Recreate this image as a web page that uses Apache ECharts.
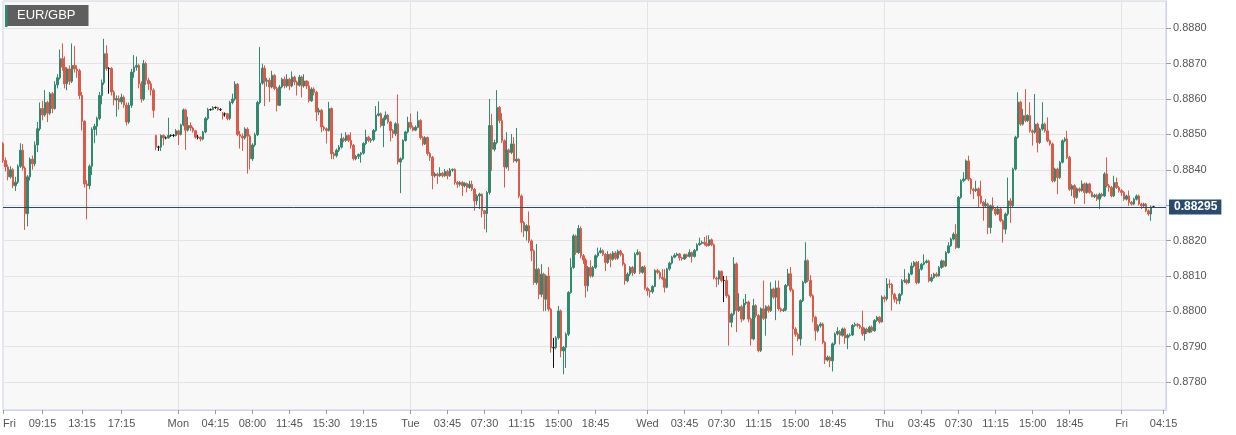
<!DOCTYPE html>
<html><head><meta charset="utf-8">
<script src="https://cdn.jsdelivr.net/npm/echarts@6/dist/echarts.min.js"></script>
<style>html,body{margin:0;padding:0;background:#fff}#c{width:1236px;height:435px}</style>
</head><body><div id="c"></div>
<script>
const symbolName = 'EUR/GBP';
const lastPrice = 0.88295;
// trading sessions: day, first 15-min candle, number of candles
const sessions = [['Fri','05:15',71],['Mon','00:30',94],['Tue','00:00',96],['Wed','00:00',96],['Thu','00:00',96],['Fri','00:00',19]];
const tickTimes = ['Fri 05:15','Fri 09:15','Fri 13:15','Fri 17:15','Mon 00:30','Mon 04:15','Mon 08:00','Mon 11:45','Mon 15:30','Mon 19:15','Tue 00:00','Tue 03:45','Tue 07:30','Tue 11:15','Tue 15:00','Tue 18:45','Wed 00:00','Wed 03:45','Wed 07:30','Wed 11:15','Wed 15:00','Wed 18:45','Thu 00:00','Thu 03:45','Thu 07:30','Thu 11:15','Thu 15:00','Thu 18:45','Fri 00:00','Fri 04:15'];
const tickLabels = ['Fri','09:15','13:15','17:15','Mon','04:15','08:00','11:45','15:30','19:15','Tue','03:45','07:30','11:15','15:00','18:45','Wed','03:45','07:30','11:15','15:00','18:45','Thu','03:45','07:30','11:15','15:00','18:45','Fri','04:15'];
const dayStarts = ['Mon 00:30','Tue 00:00','Wed 00:00','Thu 00:00','Fri 00:00'];

// candles: [open, close, low, high]
const fri1 = [
[.88474,.88426,.88420,.88478],[.88426,.88408,.88395,.88435],[.88408,.88380,.88370,.88415],[.88380,.88400,.88375,.88410],
[.88400,.88355,.88348,.88405],[.88355,.88365,.88340,.88380],[.88365,.88410,.88360,.88415],[.88410,.88455,.88405,.88475],
[.88455,.88405,.88398,.88473],[.88405,.88276,.88230,.88410],[.88276,.88380,.88240,.88385],[.88380,.88430,.88370,.88435],
[.88430,.88417,.88400,.88440],[.88417,.88470,.88410,.88480],[.88470,.88516,.88450,.88535],[.88516,.88573,.88510,.88590],
[.88573,.88555,.88540,.88595],[.88555,.88590,.88550,.88625],[.88590,.88560,.88535,.88595],[.88560,.88615,.88555,.88620],
[.88615,.88573,.88560,.88620],[.88573,.88640,.88570,.88650],[.88640,.88660,.88630,.88670],[.88660,.88714,.88655,.88740],
[.88714,.88690,.88680,.88757],[.88690,.88643,.88630,.88720],[.88643,.88685,.88625,.88690],[.88685,.88650,.88640,.88695],
[.88650,.88695,.88645,.88757],[.88695,.88685,.88675,.88750],[.88685,.88680,.88660,.88695],[.88680,.88610,.88600,.88685],
[.88610,.88537,.88511,.88620],[.88537,.88360,.88350,.88540],[.88360,.88355,.88260,.88370],[.88355,.88410,.88345,.88415],
[.88410,.88514,.88385,.88520],[.88514,.88523,.88475,.88530],[.88523,.88545,.88497,.88550],[.88545,.88610,.88540,.88620],
[.88610,.88646,.88585,.88655],[.88646,.88728,.88640,.88770],[.88728,.88686,.88680,.88752],[.88686,.88686,.88615,.88690],
[.88686,.88620,.88610,.88690],[.88620,.88597,.88582,.88625],[.88597,.88601,.88550,.88610],[.88601,.88592,.88570,.88610],
[.88592,.88605,.88585,.88615],[.88605,.88583,.88575,.88610],[.88583,.88535,.88525,.88590],[.88535,.88582,.88530,.88590],
[.88582,.88676,.88575,.88685],[.88676,.88690,.88660,.88724],[.88690,.88695,.88680,.88720],[.88695,.88643,.88630,.88700],
[.88643,.88600,.88590,.88650],[.88600,.88700,.88595,.88710],[.88700,.88653,.88640,.88705],[.88653,.88643,.88625,.88660],
[.88643,.88625,.88610,.88650],[.88625,.88568,.88547,.88630],[.88497,.88464,.88455,.88499],[.88464,.88464,.88453,.88468],
[.88464,.88497,.88453,.88500],[.88497,.88490,.88469,.88500],[.88490,.88490,.88486,.88494],[.88490,.88497,.88488,.88547],
[.88497,.88497,.88493,.88500],[.88497,.88497,.88492,.88501],[.88497,.88510,.88494,.88515]
];
const mon = [
[.88510,.88500,.88470,.88513],[.88500,.88527,.88497,.88530],[.88527,.88569,.88523,.88573],[.88569,.88512,.88456,.88572],
[.88512,.88525,.88508,.88550],[.88525,.88518,.88510,.88534],[.88518,.88510,.88505,.88522],[.88510,.88492,.88488,.88513],
[.88492,.88492,.88486,.88499],[.88492,.88487,.88480,.88495],[.88487,.88507,.88483,.88510],[.88507,.88545,.88503,.88550],
[.88545,.88570,.88540,.88575],[.88570,.88570,.88567,.88573],[.88570,.88576,.88568,.88580],[.88576,.88576,.88572,.88579],
[.88576,.88570,.88567,.88578],[.88570,.88570,.88566,.88574],[.88560,.88553,.88542,.88563],[.88558,.88558,.88550,.88562],
[.88558,.88545,.88540,.88560],[.88545,.88590,.88540,.88595],[.88590,.88600,.88585,.88615],[.88600,.88642,.88595,.88650],
[.88642,.88500,.88495,.88645],[.88500,.88495,.88460,.88510],[.88495,.88490,.88453,.88503],[.88490,.88515,.88485,.88520],
[.88515,.88495,.88389,.88520],[.88495,.88431,.88401,.88500],[.88431,.88470,.88425,.88475],[.88470,.88499,.88465,.88505],
[.88499,.88590,.88495,.88595],[.88590,.88645,.88585,.88747],[.88645,.88687,.88640,.88700],[.88687,.88650,.88580,.88695],
[.88650,.88653,.88635,.88660],[.88653,.88634,.88592,.88660],[.88634,.88667,.88630,.88680],[.88667,.88630,.88625,.88670],
[.88630,.88582,.88565,.88635],[.88582,.88634,.88580,.88640],[.88634,.88656,.88630,.88660],[.88656,.88637,.88630,.88663],
[.88637,.88656,.88632,.88670],[.88656,.88637,.88625,.88660],[.88637,.88662,.88633,.88678],[.88662,.88648,.88640,.88666],
[.88648,.88639,.88610,.88652],[.88639,.88662,.88635,.88668],[.88662,.88637,.88604,.88666],[.88637,.88651,.88632,.88670],
[.88651,.88637,.88628,.88653],[.88637,.88595,.88590,.88650],[.88595,.88628,.88592,.88633],[.88628,.88619,.88610,.88633],
[.88619,.88563,.88538,.88623],[.88563,.88568,.88555,.88575],[.88568,.88521,.88506,.88572],[.88521,.88516,.88510,.88525],
[.88516,.88511,.88474,.88520],[.88511,.88573,.88508,.88592],[.88573,.88445,.88430,.88576],[.88445,.88440,.88430,.88450],
[.88440,.88455,.88435,.88460],[.88455,.88464,.88450,.88470],[.88464,.88488,.88460,.88503],[.88488,.88483,.88478,.88493],
[.88483,.88497,.88479,.88506],[.88497,.88483,.88478,.88500],[.88483,.88469,.88460,.88506],[.88469,.88431,.88426,.88473],
[.88431,.88438,.88427,.88442],[.88438,.88443,.88430,.88446],[.88443,.88447,.88420,.88450],[.88447,.88474,.88443,.88478],
[.88474,.88492,.88470,.88513],[.88492,.88483,.88478,.88496],[.88483,.88485,.88476,.88490],[.88485,.88511,.88480,.88515],
[.88511,.88554,.88507,.88580],[.88554,.88558,.88550,.88593],[.88558,.88525,.88520,.88562],[.88525,.88544,.88464,.88548],
[.88544,.88554,.88540,.88565],[.88554,.88535,.88530,.88558],[.88535,.88511,.88480,.88538],[.88511,.88502,.88490,.88515],
[.88502,.88530,.88495,.88534],[.88530,.88422,.88415,.88613],[.88422,.88431,.88334,.88435],[.88431,.88483,.88428,.88486],
[.88483,.88507,.88480,.88510],[.88507,.88534,.88503,.88550]
];
const tue = [
[.88534,.88520,.88515,.88559],[.88520,.88512,.88508,.88525],[.88512,.88520,.88509,.88525],[.88520,.88539,.88517,.88565],
[.88539,.88491,.88485,.88543],[.88491,.88473,.88468,.88495],[.88473,.88491,.88470,.88495],[.88491,.88446,.88440,.88494],
[.88446,.88435,.88425,.88450],[.88435,.88383,.88345,.88439],[.88383,.88388,.88378,.88393],[.88388,.88383,.88360,.88392],
[.88383,.88390,.88380,.88407],[.88390,.88383,.88378,.88394],[.88383,.88395,.88380,.88402],[.88395,.88383,.88373,.88400],
[.88383,.88399,.88380,.88405],[.88399,.88401,.88394,.88404],[.88401,.88364,.88358,.88404],[.88364,.88359,.88349,.88368],
[.88359,.88364,.88353,.88368],[.88364,.88355,.88326,.88368],[.88355,.88361,.88350,.88365],[.88361,.88350,.88336,.88364],
[.88350,.88359,.88346,.88369],[.88359,.88345,.88340,.88369],[.88345,.88312,.88284,.88348],[.88312,.88326,.88300,.88331],
[.88326,.88331,.88289,.88335],[.88331,.88284,.88265,.88333],[.88284,.88276,.88232,.88287],[.88276,.88336,.88223,.88340],
[.88336,.88525,.88330,.88600],[.88525,.88458,.88397,.88558],[.88458,.88477,.88452,.88485],[.88477,.88576,.88472,.88625],
[.88576,.88539,.88532,.88580],[.88539,.88482,.88476,.88560],[.88482,.88408,.88350,.88486],[.88408,.88456,.88403,.88506],
[.88456,.88449,.88397,.88460],[.88449,.88473,.88444,.88501],[.88473,.88425,.88420,.88492],[.88425,.88430,.88420,.88518],
[.88430,.88326,.88320,.88432],[.88326,.88251,.88223,.88330],[.88251,.88227,.88210,.88255],[.88227,.88242,.88200,.88246],
[.88242,.88199,.88193,.88282],[.88199,.88171,.88142,.88203],[.88171,.88081,.88075,.88175],[.88081,.88119,.88075,.88190],
[.88119,.88048,.88034,.88123],[.88048,.88105,.88040,.88133],[.88105,.88034,.88000,.88109],[.88034,.88100,.88001,.88104],
[.88100,.88006,.88000,.88125],[.88006,.87897,.87883,.88010],[.87897,.87897,.87840,.87925],[.87897,.87925,.87892,.87930],
[.87925,.88001,.87920,.88015],[.88001,.87888,.87870,.88005],[.87888,.87898,.87822,.87902],[.87898,.87935,.87840,.87940],
[.87935,.88053,.87930,.88057],[.88053,.88124,.88050,.88150],[.88124,.88213,.88120,.88218],[.88213,.88166,.88160,.88217],
[.88166,.88234,.88162,.88244],[.88234,.88157,.88150,.88240],[.88157,.88145,.88134,.88162],[.88145,.88072,.88039,.88150],
[.88072,.88124,.88056,.88128],[.88124,.88100,.88095,.88144],[.88100,.88124,.88096,.88128],[.88124,.88157,.88120,.88161],
[.88157,.88166,.88152,.88180],[.88166,.88171,.88163,.88180],[.88171,.88161,.88156,.88175],[.88161,.88138,.88114,.88165],
[.88138,.88161,.88134,.88170],[.88161,.88147,.88124,.88165],[.88147,.88165,.88143,.88170],[.88165,.88150,.88145,.88170],
[.88150,.88170,.88146,.88174],[.88170,.88161,.88155,.88174],[.88161,.88133,.88128,.88165],[.88133,.88086,.88075,.88137],
[.88086,.88105,.88082,.88110],[.88105,.88124,.88100,.88128],[.88124,.88109,.88100,.88128],[.88109,.88161,.88105,.88166],
[.88161,.88166,.88158,.88175],[.88166,.88110,.88105,.88170],[.88110,.88125,.88106,.88128],[.88125,.88065,.88060,.88130]
];
const wed = [
[.88065,.88058,.88044,.88069],[.88058,.88055,.88039,.88062],[.88055,.88070,.88050,.88074],[.88070,.88115,.88068,.88119],
[.88115,.88110,.88105,.88120],[.88110,.88096,.88090,.88115],[.88096,.88092,.88088,.88119],[.88092,.88068,.88053,.88119],
[.88068,.88120,.88065,.88123],[.88120,.88136,.88115,.88140],[.88136,.88153,.88132,.88157],[.88153,.88158,.88150,.88164],
[.88158,.88162,.88155,.88166],[.88162,.88151,.88143,.88165],[.88151,.88148,.88143,.88154],[.88148,.88160,.88145,.88163],
[.88160,.88155,.88150,.88163],[.88155,.88166,.88152,.88175],[.88166,.88155,.88138,.88169],[.88155,.88172,.88152,.88176],
[.88172,.88188,.88170,.88192],[.88188,.88192,.88185,.88208],[.88192,.88195,.88189,.88200],[.88195,.88191,.88186,.88210],
[.88191,.88186,.88182,.88214],[.88186,.88202,.88183,.88215],[.88202,.88188,.88184,.88206],[.88188,.88094,.88090,.88192],
[.88094,.88091,.88068,.88098],[.88091,.88113,.88075,.88116],[.88113,.88087,.88082,.88115],[.88087,.88087,.88026,.88100],
[.88087,.88044,.88038,.88100],[.88044,.87969,.87903,.88048],[.87969,.87992,.87955,.87996],[.87992,.88134,.87988,.88153],
[.88134,.88002,.87941,.88138],[.88002,.88013,.87998,.88051],[.88013,.87978,.87969,.88018],[.87978,.88023,.87974,.88035],
[.88023,.88026,.88018,.88049],[.88026,.87978,.87969,.88030],[.87978,.87922,.87903,.87982],[.87922,.88016,.87918,.88035],
[.88016,.87988,.87982,.88020],[.87988,.87889,.87884,.87992],[.87889,.88007,.87885,.88011],[.88007,.87980,.87975,.88087],
[.87980,.88013,.87931,.88017],[.88013,.88002,.87996,.88018],[.88002,.88063,.87998,.88082],[.88063,.88040,.88035,.88067],
[.88040,.88066,.87975,.88087],[.88066,.88007,.88002,.88087],[.88007,.88002,.87997,.88011],[.88002,.88004,.87998,.88009],
[.88004,.88073,.88000,.88077],[.88073,.88106,.88070,.88120],[.88106,.88060,.88055,.88125],[.88060,.87950,.87875,.88064],
[.87950,.87935,.87928,.87955],[.87935,.87922,.87915,.87940],[.87922,.88030,.87903,.88034],[.88030,.88082,.88026,.88086],
[.88082,.88143,.88078,.88195],[.88143,.88087,.88082,.88147],[.88087,.88044,.88039,.88102],[.88044,.87983,.87969,.88048],
[.87983,.87945,.87917,.87987],[.87945,.87959,.87940,.87963],[.87959,.87964,.87954,.87969],[.87964,.87912,.87907,.87968],
[.87912,.87862,.87851,.87916],[.87862,.87870,.87858,.87875],[.87870,.87860,.87842,.87874],[.87860,.87908,.87830,.87912],
[.87908,.87936,.87904,.87940],[.87936,.87943,.87932,.87955],[.87943,.87932,.87906,.87947],[.87932,.87950,.87928,.87954],
[.87950,.87925,.87908,.87954],[.87925,.87932,.87893,.87936],[.87932,.87933,.87928,.87938],[.87933,.87960,.87930,.87964],
[.87960,.87963,.87956,.87968],[.87963,.87960,.87955,.87967],[.87960,.87955,.87950,.87964],[.87955,.87936,.87930,.88002],
[.87936,.87950,.87917,.87954],[.87950,.87941,.87936,.87954],[.87941,.87955,.87938,.87959],[.87955,.87945,.87940,.87960],
[.87945,.87974,.87942,.87978],[.87974,.87983,.87970,.87987],[.87983,.87970,.87965,.87986],[.87970,.88040,.87968,.88045]
];
const thu = [
[.88040,.88035,.88025,.88045],[.88035,.88077,.88030,.88094],[.88077,.88076,.88065,.88090],[.88076,.88048,.88002,.88080],
[.88048,.88034,.88025,.88052],[.88034,.88030,.88020,.88040],[.88030,.88048,.88020,.88052],[.88048,.88086,.88044,.88091],
[.88086,.88088,.88080,.88119],[.88088,.88081,.88076,.88092],[.88081,.88105,.88078,.88109],[.88105,.88128,.88102,.88138],
[.88128,.88138,.88124,.88142],[.88138,.88081,.88076,.88142],[.88081,.88119,.88078,.88142],[.88119,.88133,.88115,.88137],
[.88133,.88138,.88130,.88161],[.88138,.88142,.88135,.88146],[.88142,.88086,.88082,.88146],[.88086,.88095,.88082,.88105],
[.88095,.88105,.88092,.88109],[.88105,.88100,.88096,.88110],[.88100,.88124,.88098,.88128],[.88124,.88142,.88120,.88146],
[.88142,.88128,.88124,.88145],[.88128,.88166,.88125,.88170],[.88166,.88185,.88163,.88195],[.88185,.88204,.88182,.88208],
[.88204,.88218,.88200,.88223],[.88218,.88180,.88176,.88246],[.88180,.88322,.88178,.88326],[.88322,.88369,.88318,.88373],
[.88369,.88374,.88365,.88393],[.88374,.88425,.88370,.88429],[.88425,.88373,.88368,.88440],[.88373,.88345,.88331,.88377],
[.88345,.88341,.88317,.88349],[.88341,.88346,.88337,.88369],[.88346,.88326,.88293,.88350],[.88326,.88308,.88303,.88369],
[.88308,.88298,.88256,.88312],[.88298,.88303,.88294,.88317],[.88303,.88237,.88218,.88307],[.88237,.88298,.88220,.88302],
[.88298,.88289,.88284,.88322],[.88289,.88275,.88270,.88293],[.88275,.88289,.88272,.88298],[.88289,.88256,.88252,.88293],
[.88256,.88232,.88194,.88260],[.88232,.88275,.88218,.88279],[.88275,.88312,.88270,.88378],[.88312,.88298,.88250,.88320],
[.88298,.88402,.88294,.88406],[.88402,.88492,.88398,.88496],[.88492,.88591,.88488,.88619],[.88591,.88529,.88524,.88595],
[.88529,.88553,.88525,.88572],[.88553,.88539,.88534,.88628],[.88539,.88553,.88535,.88557],[.88553,.88510,.88505,.88591],
[.88510,.88506,.88468,.88514],[.88506,.88529,.88502,.88614],[.88529,.88477,.88449,.88533],[.88477,.88515,.88473,.88519],
[.88515,.88529,.88510,.88591],[.88529,.88510,.88505,.88533],[.88510,.88482,.88478,.88548],[.88482,.88473,.88468,.88486],
[.88473,.88369,.88364,.88477],[.88369,.88402,.88365,.88406],[.88402,.88378,.88331,.88406],[.88378,.88421,.88374,.88425],
[.88421,.88482,.88418,.88486],[.88482,.88487,.88478,.88492],[.88487,.88435,.88430,.88510],[.88435,.88345,.88340,.88439],
[.88345,.88355,.88326,.88359],[.88355,.88322,.88303,.88359],[.88322,.88346,.88318,.88350],[.88346,.88341,.88336,.88350],
[.88341,.88360,.88338,.88370],[.88360,.88336,.88303,.88364],[.88336,.88360,.88332,.88364],[.88360,.88336,.88332,.88363],
[.88336,.88324,.88322,.88340],[.88324,.88328,.88320,.88332],[.88328,.88317,.88312,.88332],[.88317,.88331,.88289,.88335],
[.88331,.88326,.88322,.88335],[.88326,.88388,.88323,.88393],[.88388,.88355,.88350,.88435],[.88355,.88350,.88338,.88360],
[.88350,.88326,.88322,.88354],[.88326,.88364,.88323,.88383],[.88364,.88350,.88346,.88378],[.88350,.88341,.88336,.88354]
];
const fri2 = [
[.88341,.88336,.88326,.88345],[.88336,.88317,.88312,.88340],[.88317,.88326,.88313,.88330],[.88326,.88308,.88298,.88341],
[.88308,.88303,.88299,.88312],[.88303,.88317,.88300,.88321],[.88317,.88326,.88313,.88330],[.88326,.88303,.88299,.88330],
[.88303,.88298,.88289,.88307],[.88298,.88303,.88294,.88307],[.88303,.88284,.88280,.88306],[.88284,.88275,.88270,.88288],
[.88275,.88295,.88256,.88299],[.88295,.88295,.88292,.88298]
];

const UP = '#31896f', DOWN = '#dc5a4a';
const FONT = '"Liberation Sans", Arial, Helvetica, sans-serif';

const categories = [];
sessions.forEach(([d, t, n]) => {
  const [h, m] = t.split(':').map(Number);
  const start = h * 60 + m;
  for (let k = 0; k < n; k++) {
    const v = start + 15 * k;
    categories.push(d + ' ' + String(Math.floor(v / 60)).padStart(2, '0') + ':' + String(v % 60).padStart(2, '0'));
  }
});
const ohlc = [].concat(fri1, mon, tue, wed, thu, fri2);
const tickMap = {};
tickTimes.forEach((t, i) => { tickMap[t] = tickLabels[i]; });
const daySet = new Set(dayStarts);

const chart = echarts.init(document.getElementById('c'), null, {renderer: 'canvas'});
chart.setOption({
  animation: false,
  backgroundColor: '#ffffff',
  textStyle: {fontFamily: FONT},
  title: {
    text: symbolName, left: 5, top: 5,
    backgroundColor: '#5f5f5f',
    padding: [4, 13, 4, 12],
    textStyle: {color: '#ffffff', fontSize: 13, fontWeight: 'normal', fontFamily: FONT}
  },
  graphic: [{type: 'rect', left: 5, top: 5, z: 100, shape: {width: 2.5, height: 22}, style: {fill: '#2e8b72'}}],
  grid: {left: 1, right: 70, top: 1, bottom: 25, show: true, backgroundColor: '#f8f8f8', borderColor: '#cdd2e6', borderWidth: 1},
  xAxis: {
    type: 'category', data: categories, boundaryGap: false,
    axisLine: {lineStyle: {color: '#cdd2e6'}},
    axisTick: {show: true, interval: (i, v) => v in tickMap, length: 4, lineStyle: {color: '#9a9a9a'}},
    axisLabel: {interval: (i, v) => v in tickMap, formatter: (v) => tickMap[v] || '', color: '#555', fontSize: 11, margin: 8, alignMinLabel: 'left', fontFamily: FONT},
    splitLine: {show: true, interval: (i, v) => daySet.has(v), lineStyle: {color: '#e4e4e4'}}
  },
  yAxis: {
    type: 'value', position: 'right', min: 0.87721, max: 0.88877, splitNumber: 11,
    minInterval: 0.001, maxInterval: 0.001,
    axisLine: {show: true, lineStyle: {color: '#cdd2e6'}},
    axisTick: {show: true, length: 5, lineStyle: {color: '#9a9a9a'}},
    axisLabel: {color: '#555', fontSize: 11, margin: 7, formatter: (v) => v.toFixed(4), showMinLabel: false, showMaxLabel: false, fontFamily: FONT},
    splitLine: {show: true, lineStyle: {color: '#e4e4e4'}}
  },
  series: [{
    type: 'candlestick', data: ohlc, barWidth: 2,
    itemStyle: {color: UP, color0: DOWN, borderColor: UP, borderColor0: DOWN, borderColorDoji: '#111111', borderWidth: 1},
    emphasis: {disabled: true},
    markLine: {
      silent: true, animation: false, symbol: ['none', 'none'], precision: 5,
      data: [{yAxis: lastPrice}],
      lineStyle: {color: '#2a4870', width: 1, type: 'solid'},
      label: {show: true, position: 'end', distance: 3, formatter: () => lastPrice.toFixed(5),
        backgroundColor: '#2b4a70', color: '#ffffff', fontWeight: 'bold', fontSize: 12, lineHeight: 13,
        padding: [1, 4, 1, 5], fontFamily: FONT}
    }
  }]
});
</script></body></html>
